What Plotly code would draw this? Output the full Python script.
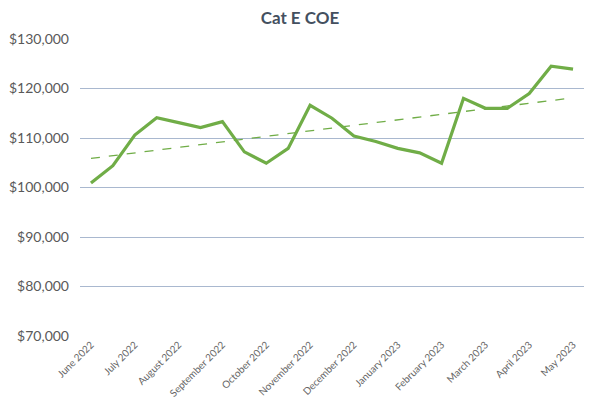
import numpy as np
import plotly.graph_objects as go

# COE Cat E premiums, two bidding exercises per month
rounds = list(range(23))
premiums = [100900, 104400, 110600, 114100, 113100, 112100, 113300, 107200,
            104900, 107900, 116600, 114000, 110400, 109300, 107900, 107000,
            104900, 118000, 116000, 116000, 119000, 124500, 123900]
month_labels = ["June 2022", "July 2022", "August 2022", "September 2022",
                "October 2022", "November 2022", "December 2022", "January 2023",
                "February 2023", "March 2023", "April 2023", "May 2023"]
month_pos = rounds[::2]

# linear trendline like Excel
slope, intercept = np.polyfit(rounds, premiums, 1)
trend = [slope * r + intercept for r in rounds]

green = "#70AD47"

fig = go.Figure()
fig.add_trace(go.Scatter(x=rounds, y=trend, mode="lines",
                         line=dict(color=green, width=1.3, dash="dash"),
                         hoverinfo="skip"))
fig.add_trace(go.Scatter(x=rounds, y=premiums, mode="lines",
                         line=dict(color=green, width=3.2)))

# page body has an 8px margin, so the figure is a bit smaller and shifted
fig.update_layout(
    width=592, height=392,
    paper_bgcolor="white", plot_bgcolor="white",
    showlegend=False,
    margin=dict(l=72, r=16, t=31, b=64),
    title=dict(text="<b>Cat E COE</b>", x=0.4932, xanchor="center", y=0.99, yanchor="top",
               font=dict(family="Lato", size=17, color="#44505F")),
    font=dict(family="Lato", color="#595959"),
    shapes=[dict(type="rect", xref="paper", yref="paper", x0=-0.156, x1=1.026, y0=-0.3, y1=1.13,
                 line=dict(color="#C8C8C8", width=1), layer="below")],
)
fig.update_xaxes(range=[-0.5, 22.5], tickvals=month_pos, ticktext=month_labels,
                 tickangle=-45, tickfont=dict(size=10, color="#666666"),
                 showgrid=False, zeroline=False, showline=False, ticks="",
                 automargin=False)
fig.update_yaxes(range=[70000, 130000], dtick=10000, tickprefix="$", tickformat=",d",
                 tickfont=dict(size=14, color="#595959"),
                 gridcolor="#A9B8CF", gridwidth=1.2, zeroline=False, showline=False,
                 ticks="", ticklabelstandoff=10, automargin=False)

fig.write_html("out.html")
